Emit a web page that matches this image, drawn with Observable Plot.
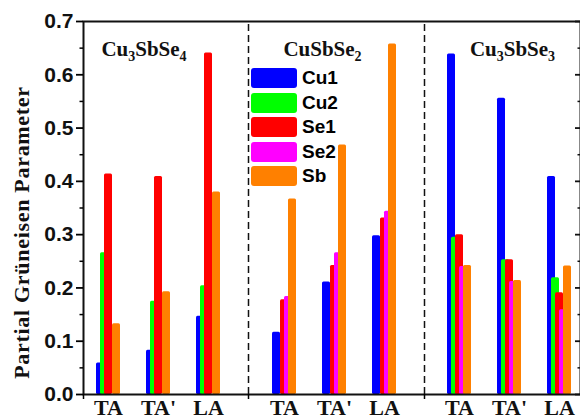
<!DOCTYPE html>
<html><head><meta charset="utf-8">
<script src="https://cdn.jsdelivr.net/npm/d3@7"></script>
<script src="https://cdn.jsdelivr.net/npm/@observablehq/plot@0.6"></script>
<style>
body{margin:0;background:#fff}
#wrap{position:relative;width:580px;height:418px;overflow:hidden;background:#fff}
#legend{position:absolute;left:251px;top:68px;font-family:"Liberation Sans",Arial,sans-serif;font-weight:bold;font-size:19px}
.item{display:flex;align-items:center;height:20px;margin-bottom:4.6px}
.sw{width:46px;height:20px;border-radius:3px;margin-right:5px}
</style>
</head><body><div id="wrap"></div>
<script>
const compounds = ["Cu3SbSe4", "CuSbSe2", "Cu3SbSe3"];
const modes = ["TA", "TA'", "LA"];
const species = ["Cu1", "Cu2", "Se1", "Se2", "Sb"];
const colors = ["#0000ff", "#00ff00", "#ff0000", "#ff00ff", "#ff8000"];
// values in order: Cu3SbSe4 (TA, TA', LA), CuSbSe2 (TA, TA', LA), Cu3SbSe3 (TA, TA', LA)
const cu1 = [0.059, 0.083, 0.147, 0.117, 0.211, 0.298, 0.639, 0.556, 0.409];
const cu2 = [0.266, 0.175, 0.204, null, null, null, 0.295, 0.253, 0.219];
const se1 = [0.414, 0.409, 0.641, 0.178, 0.242, 0.331, 0.300, 0.253, 0.191];
const se2 = [null, null, null, 0.184, 0.266, 0.344, 0.240, 0.212, 0.159];
const sb  = [0.133, 0.193, 0.380, 0.367, 0.468, 0.658, 0.242, 0.214, 0.241];
const yTicks = [0, 0.1, 0.2, 0.3, 0.4, 0.5, 0.6, 0.7];
const yMinor = [0.05, 0.15, 0.25, 0.35, 0.45, 0.55, 0.65];
const yLabel = "Partial Grüneisen Parameter";

// layout (x in group units)
const panelStart = [0, 3.52, 7.02];
const dividerOffset = 2.8;
const titleOffset = [0.71, 0.76, 1.06];
const xDomain = [-0.5, 9.44];
const barStep = 0.08, barWidth = 0.16, groupHalf = 0.24;

const values = [cu1, cu2, se1, se2, sb];
const rows = [];
const groups = [];
compounds.forEach((c, ci) => {
  modes.forEach((m, mi) => {
    const center = panelStart[ci] + mi;
    groups.push({mode: m, center});
    species.forEach((s, si) => {
      const v = values[si][ci * 3 + mi];
      if (v != null) rows.push({compound: c, mode: m, species: s, si, value: v, center});
    });
  });
});
const dividers = [panelStart[0] + dividerOffset, panelStart[1] + dividerOffset];
const titles = compounds.map((c, i) => ({text: c, x: panelStart[i] + titleOffset[i]}));
const xr = xDomain[1];

const serif = "'Liberation Serif','Times New Roman',serif";
const sans = "'Liberation Sans',Arial,sans-serif";

const chart = Plot.plot({
  width: 580, height: 418,
  marginLeft: 83, marginRight: 0, marginTop: 21, marginBottom: 24,
  style: {background: "white", overflow: "visible"},
  x: {domain: xDomain, axis: null},
  y: {domain: [0, 0.7], axis: null, label: null},
  color: {domain: species, range: colors},
  marks: [
    Plot.ruleX(dividers, {y1: 0, y2: 0.7, stroke: "#111", strokeWidth: 1.5, strokeDasharray: "7,4"}),
    Plot.rect(rows, {
      x1: d => d.center - groupHalf + barStep * d.si,
      x2: d => d.center - groupHalf + barStep * d.si + barWidth,
      y1: 0, y2: "value", fill: "species", rx: 1.5
    }),
    Plot.frame({stroke: "#111", strokeWidth: 2}),
    Plot.axisY(yTicks, {tickSize: 7, tickPadding: 3, tickFormat: d3.format(".1f"), fontSize: 21, fontWeight: "bold", fontFamily: sans, strokeWidth: 1.8, label: null, fill: "#111"}),
    Plot.axisY(yMinor, {tickSize: 3.5, tickFormat: () => "", strokeWidth: 1.5, label: null}),
    Plot.ruleY(yTicks, {y: d => d, x1: xr - 0.1, x2: xr, stroke: "#111", strokeWidth: 1.8}),
    Plot.ruleY(yMinor, {y: d => d, x1: xr - 0.05, x2: xr, stroke: "#111", strokeWidth: 1.5}),
    Plot.axisX([xDomain[0], ...dividers], {tickSize: 5, tickFormat: () => "", strokeWidth: 1.5, label: null}),
    Plot.text(groups, {x: "center", text: "mode", frameAnchor: "bottom", lineAnchor: "top", dy: 5, fontSize: 22, fontWeight: "bold", fontFamily: serif, fill: "#111"}),
    Plot.text(titles, {x: "x", text: "text", frameAnchor: "top", lineAnchor: "bottom", dy: 34, fontSize: 21, fontWeight: "bold", fontFamily: serif, fill: "#111", className: "ptitle"}),
    Plot.text([yLabel], {text: d => d, frameAnchor: "left", textAnchor: "middle", rotate: -90, lineAnchor: "bottom", dx: -55, dy: 24.5, fontSize: 22, fontWeight: "bold", fontFamily: serif, fill: "#111"})
  ]
});

// subscripts for chemical formulas
chart.querySelectorAll(".ptitle text").forEach(t => {
  const s = t.textContent;
  t.textContent = "";
  const parts = s.match(/\d+|\D+/g);
  let sub = false;
  parts.forEach(p => {
    const ts = document.createElementNS("http://www.w3.org/2000/svg", "tspan");
    ts.textContent = p;
    if (/\d/.test(p)) { ts.setAttribute("font-size", "14"); ts.setAttribute("dy", "5"); sub = true; }
    else if (sub) { ts.setAttribute("dy", "-5"); sub = false; }
    t.appendChild(ts);
  });
});
chart.querySelectorAll("text").forEach(t => { if (t.textContent === yLabel) t.style.letterSpacing = "0.7px"; });

const wrap = document.getElementById("wrap");
wrap.appendChild(chart);
const legend = document.createElement("div");
legend.id = "legend";
species.forEach((s, i) => {
  const it = document.createElement("div");
  it.className = "item";
  const sw = document.createElement("div");
  sw.className = "sw";
  sw.style.background = colors[i];
  const lb = document.createElement("span");
  lb.textContent = s;
  it.appendChild(sw); it.appendChild(lb);
  legend.appendChild(it);
});
wrap.appendChild(legend);
</script></body></html>
